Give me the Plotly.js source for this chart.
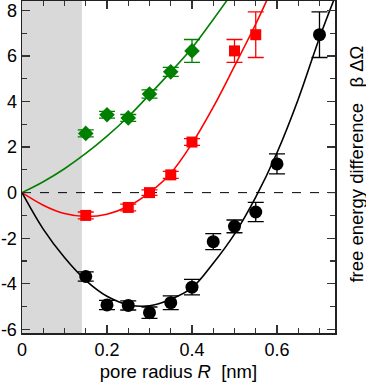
<!DOCTYPE html>
<html>
<head>
<meta charset="utf-8">
<script src="https://cdn.plot.ly/plotly-3.0.1.min.js"></script>
<style>html,body{margin:0;padding:0;background:#fff;}#chart{width:366px;height:382px;}</style>
</head>
<body>
<div id="chart"></div>
<script>
// ---- data ----
// simulation points
const greenR   = [0.15, 0.20, 0.25, 0.30, 0.35, 0.40];
const greenY   = [2.60, 3.42, 3.28, 4.33, 5.30, 6.22];
const greenErr = [0.15, 0.15, 0.15, 0.18, 0.20, 0.50];

const redR   = [0.15, 0.25, 0.30, 0.35, 0.40, 0.50, 0.55];
const redY   = [-1.00, -0.65, 0.00, 0.78, 2.22, 6.22, 6.93];
const redErr = [0.15, 0.15, 0.12, 0.15, 0.15, 0.50, 1.00];

const blackR   = [0.15, 0.20, 0.25, 0.30, 0.35, 0.40, 0.45, 0.50, 0.55, 0.60, 0.70];
const blackY   = [-3.68, -4.93, -4.95, -5.27, -4.83, -4.15, -2.15, -1.48, -0.85, 1.26, 6.93];
const blackErr = [0.20, 0.20, 0.20, 0.25, 0.30, 0.34, 0.35, 0.28, 0.42, 0.44, 1.00];

// fitted curves
const greenFitR = [0, 0.05, 0.10, 0.15, 0.20, 0.25, 0.30, 0.35, 0.40, 0.45, 0.50];
const greenFitY = [0, 0.48, 1.05, 1.72, 2.48, 3.33, 4.30, 5.30, 6.35, 7.60, 8.90];

const redFitR = [0, 0.05, 0.10, 0.15, 0.20, 0.25, 0.30, 0.35, 0.40, 0.45, 0.50, 0.55, 0.58];
const redFitY = [0, -0.55, -0.92, -1.05, -0.95, -0.60, 0.00, 0.85, 2.15, 3.75, 5.55, 7.40, 8.60];

const blackFitR = [0, 0.05, 0.10, 0.15, 0.20, 0.25, 0.30, 0.35, 0.40, 0.45, 0.50, 0.55, 0.60, 0.65, 0.70, 0.74];
const blackFitY = [0, -1.60, -2.85, -3.85, -4.55, -4.92, -4.97, -4.68, -4.18, -3.10, -1.82, -0.20, 1.75, 4.10, 6.80, 8.75];

// excluded region (shaded) upper bound
const shadeR = [0, 0.141];

// tick labels
const xTickVals = [0, 0.2, 0.4, 0.6];
const xTickText = ['0', '0.2', '0.4', '0.6'];
const yTickVals = [-6, -4, -2, 0, 2, 4, 6, 8];
const yTickText = ['-6', '-4', '-2', '0', '2', '4', '6', '8'];

const GREEN = 'rgb(0,128,0)';
const RED = 'rgb(255,0,0)';
const BLACK = 'rgb(0,0,0)';
const FONT = 'Liberation Sans, Arial, sans-serif';

function fit(x, y, c) {
  return {x: x, y: y, mode: 'lines', type: 'scatter', line: {color: c, width: 1.6, shape: 'spline'}, hoverinfo: 'skip', showlegend: false};
}
function pts(x, y, e, c, sym, size) {
  return {x: x, y: y, mode: 'markers', type: 'scatter', showlegend: false,
    marker: {color: c, symbol: sym, size: size, line: {width: 0}},
    error_y: {type: 'data', array: e, visible: true, color: c, thickness: 1.3, width: 8},
    cliponaxis: false};
}

const data = [
  fit(greenFitR, greenFitY, GREEN),
  fit(redFitR, redFitY, RED),
  fit(blackFitR, blackFitY, BLACK),
  pts(greenR, greenY, greenErr, GREEN, 'diamond', 12),
  pts(redR, redY, redErr, RED, 'square', 11),
  pts(blackR, blackY, blackErr, BLACK, 'circle', 13)
];

const axisCommon = {
  showgrid: false, zeroline: false, showline: true, linecolor: '#222', linewidth: 1.5,
  mirror: 'allticks', ticks: 'inside', ticklen: 8, tickwidth: 1.2, tickcolor: '#333',
  tickfont: {family: FONT, size: 18, color: '#000'}
};

const layout = {
  width: 366, height: 382,
  margin: {l: 22, r: 31, t: 1, b: 49},
  paper_bgcolor: '#fff', plot_bgcolor: '#fff',
  font: {family: FONT, color: '#000'},
  xaxis: Object.assign({}, axisCommon, {
    range: [0, 0.7365], tickmode: 'array', tickvals: xTickVals, ticktext: xTickText,
    minor: {ticks: 'inside', ticklen: 5, dtick: 0.05, tick0: 0, tickwidth: 1.2, tickcolor: '#333'},
    title: {text: 'pore radius <i>R</i>\u00a0\u00a0[nm]', font: {family: FONT, size: 18.5, color: '#000'}, standoff: 6}
  }),
  yaxis: Object.assign({}, axisCommon, {
    range: [-6.16, 8.41], tickmode: 'array', tickvals: yTickVals, ticktext: yTickText,
    minor: {ticks: 'inside', ticklen: 5, dtick: 1, tick0: 0, tickwidth: 1.2, tickcolor: '#333'},
    ticklabelstandoff: 0
  }),
  shapes: [
    {type: 'rect', xref: 'x', yref: 'paper', x0: shadeR[0], x1: shadeR[1], y0: 0, y1: 1,
     fillcolor: 'rgb(217,217,217)', line: {width: 0}, layer: 'below'},
    {type: 'line', xref: 'paper', yref: 'y', x0: 0, x1: 1, y0: 0, y1: 0,
     line: {color: '#000', width: 1, dash: 'dash'}, layer: 'below'}
  ],
  annotations: [
    {text: 'free energy difference\u00a0\u00a0\u00a0β\u00a0ΔΩ', xref: 'paper', yref: 'paper',
     x: 1.07, y: 0.51, textangle: -90, showarrow: false, xanchor: 'center', yanchor: 'middle',
     font: {family: FONT, size: 18.5, color: '#000'}}
  ]
};

Plotly.newPlot('chart', data, layout, {displayModeBar: false, staticPlot: true});
</script>
</body>
</html>
